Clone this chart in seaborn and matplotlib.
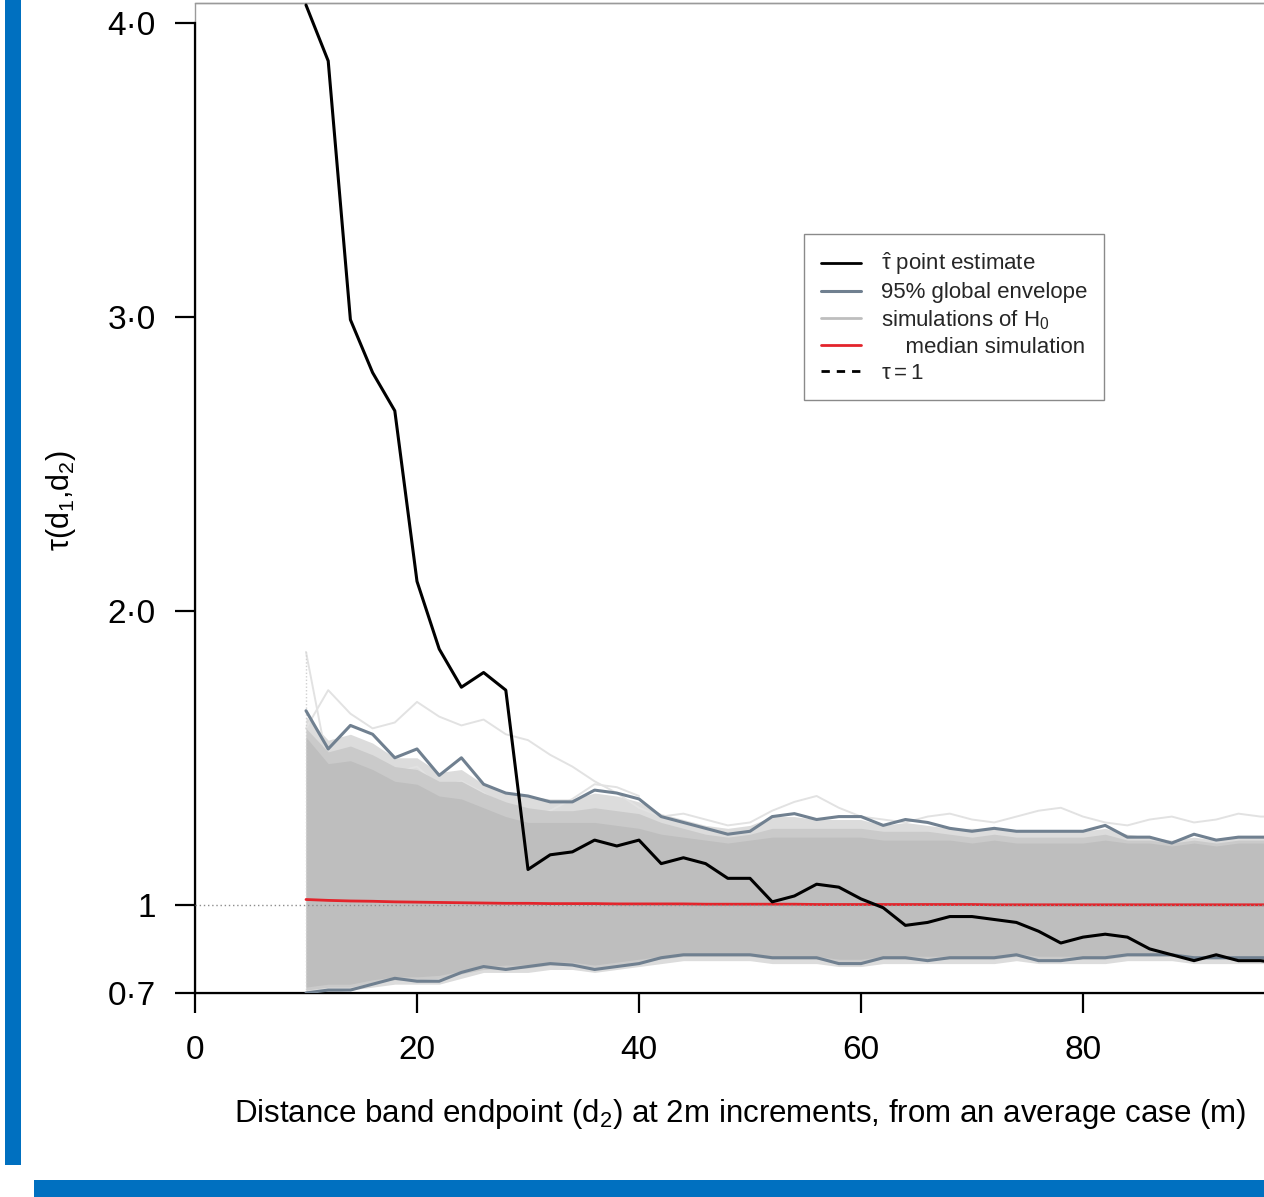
import numpy as np
import pandas as pd
import matplotlib
matplotlib.use("Agg")
import matplotlib.pyplot as plt
import seaborn as sns
from matplotlib.lines import Line2D
from matplotlib.patches import Rectangle

# ---------------- data ----------------
x_vals = list(range(10, 101, 2))  # distance band endpoints

est = [4.06, 3.87, 2.99, 2.81, 2.68, 2.10, 1.87, 1.74, 1.79, 1.73,
       1.12, 1.17, 1.18, 1.22, 1.20, 1.22, 1.14, 1.16, 1.14, 1.09,
       1.09, 1.01, 1.03, 1.07, 1.06, 1.02, 0.99, 0.93, 0.94, 0.96,
       0.96, 0.95, 0.94, 0.91, 0.87, 0.89, 0.90, 0.89, 0.85, 0.83,
       0.81, 0.83, 0.81, 0.81, 0.80, 0.80]

env_hi = [1.66, 1.53, 1.61, 1.58, 1.50, 1.53, 1.44, 1.50, 1.41, 1.38,
          1.37, 1.35, 1.35, 1.39, 1.38, 1.36, 1.30, 1.28, 1.26, 1.24,
          1.25, 1.30, 1.31, 1.29, 1.30, 1.30, 1.27, 1.29, 1.28, 1.26,
          1.25, 1.26, 1.25, 1.25, 1.25, 1.25, 1.27, 1.23, 1.23, 1.21,
          1.24, 1.22, 1.23, 1.23, 1.23, 1.23]

env_lo = [0.70, 0.71, 0.71, 0.73, 0.75, 0.74, 0.74, 0.77, 0.79, 0.78,
          0.79, 0.80, 0.795, 0.78, 0.79, 0.80, 0.82, 0.83, 0.83, 0.83,
          0.83, 0.82, 0.82, 0.82, 0.80, 0.80, 0.82, 0.82, 0.81, 0.82,
          0.82, 0.82, 0.83, 0.81, 0.81, 0.82, 0.82, 0.83, 0.83, 0.83,
          0.82, 0.82, 0.82, 0.82, 0.82, 0.82]

median_sim = [1.018, 1.015, 1.013, 1.012, 1.010, 1.009, 1.008, 1.007, 1.006, 1.005,
              1.005, 1.004, 1.004, 1.004, 1.003, 1.003, 1.003, 1.003, 1.002, 1.002,
              1.002, 1.002, 1.002, 1.001, 1.001, 1.001, 1.001, 1.001, 1.001, 1.001,
              1.001, 1.000, 1.000, 1.000, 1.000, 1.000, 1.000, 1.000, 1.000, 1.000,
              1.000, 1.000, 1.000, 1.000, 1.000, 1.000]

# spread of the simulated H0 curves (outer, lightly covered region)
sim_outer_hi = [1.64, 1.56, 1.58, 1.55, 1.50, 1.50, 1.45, 1.46, 1.41, 1.38,
                1.37, 1.36, 1.36, 1.38, 1.37, 1.35, 1.31, 1.29, 1.27, 1.26,
                1.27, 1.30, 1.30, 1.29, 1.29, 1.29, 1.27, 1.28, 1.27, 1.26,
                1.26, 1.26, 1.25, 1.25, 1.25, 1.25, 1.26, 1.24, 1.23, 1.22,
                1.23, 1.22, 1.23, 1.23, 1.23, 1.23]
sim_outer_lo = [0.70, 0.70, 0.71, 0.72, 0.73, 0.73, 0.73, 0.75, 0.77, 0.77,
                0.77, 0.78, 0.78, 0.77, 0.78, 0.79, 0.80, 0.81, 0.81, 0.81,
                0.81, 0.80, 0.80, 0.80, 0.79, 0.79, 0.80, 0.80, 0.80, 0.80,
                0.80, 0.80, 0.81, 0.80, 0.80, 0.80, 0.80, 0.81, 0.81, 0.81,
                0.80, 0.80, 0.80, 0.80, 0.80, 0.80]
# more heavily covered part of the simulated curves
sim_mid_hi = [1.60, 1.52, 1.54, 1.51, 1.47, 1.46, 1.42, 1.42, 1.38, 1.35,
              1.33, 1.32, 1.32, 1.33, 1.32, 1.31, 1.28, 1.26, 1.24, 1.23,
              1.24, 1.26, 1.26, 1.26, 1.26, 1.26, 1.25, 1.25, 1.25, 1.24,
              1.23, 1.24, 1.23, 1.23, 1.23, 1.23, 1.24, 1.22, 1.22, 1.21,
              1.22, 1.21, 1.22, 1.22, 1.22, 1.22]
sim_mid_lo = [0.71, 0.72, 0.72, 0.735, 0.745, 0.745, 0.75, 0.765, 0.78, 0.785,
              0.785, 0.795, 0.795, 0.785, 0.795, 0.805, 0.815, 0.825, 0.825, 0.825,
              0.825, 0.815, 0.815, 0.815, 0.805, 0.805, 0.815, 0.815, 0.815, 0.815,
              0.815, 0.815, 0.825, 0.815, 0.815, 0.815, 0.815, 0.825, 0.825, 0.825,
              0.815, 0.815, 0.815, 0.815, 0.815, 0.815]
# densely covered core of the simulated curves
sim_core_hi = [1.57, 1.48, 1.49, 1.46, 1.42, 1.41, 1.37, 1.36, 1.33, 1.30,
               1.28, 1.28, 1.28, 1.28, 1.27, 1.26, 1.24, 1.23, 1.22, 1.21,
               1.22, 1.23, 1.23, 1.23, 1.23, 1.23, 1.22, 1.22, 1.22, 1.22,
               1.21, 1.22, 1.21, 1.21, 1.21, 1.21, 1.22, 1.21, 1.21, 1.20,
               1.21, 1.20, 1.21, 1.21, 1.21, 1.21]
sim_core_lo = [0.72, 0.73, 0.73, 0.745, 0.755, 0.755, 0.76, 0.775, 0.79, 0.795,
               0.795, 0.805, 0.805, 0.795, 0.805, 0.815, 0.825, 0.835, 0.835, 0.835,
               0.835, 0.825, 0.825, 0.825, 0.815, 0.815, 0.825, 0.825, 0.825, 0.825,
               0.825, 0.825, 0.835, 0.825, 0.825, 0.825, 0.825, 0.835, 0.835, 0.835,
               0.825, 0.825, 0.825, 0.825, 0.825, 0.825]

# a few outlying simulated curves visible above the envelope
sim_a_x = x_vals[:16]
sim_a = [1.86, 1.47, 1.52, 1.50, 1.45, 1.47, 1.40, 1.42, 1.38, 1.33,
         1.30, 1.32, 1.36, 1.41, 1.40, 1.37]
sim_b_x = x_vals[:16]
sim_b = [1.60, 1.73, 1.65, 1.60, 1.62, 1.69, 1.64, 1.61, 1.63, 1.58,
         1.56, 1.51, 1.47, 1.42, 1.38, 1.33]
sim_c_x = x_vals[15:]
sim_c = [1.33, 1.30, 1.31, 1.29, 1.27, 1.28, 1.32, 1.35, 1.37, 1.33,
         1.30, 1.29, 1.28, 1.30, 1.31, 1.29, 1.28, 1.30, 1.32, 1.33,
         1.30, 1.28, 1.27, 1.29, 1.30, 1.28, 1.29, 1.31, 1.30, 1.30, 1.29]

x_ticks = [0, 20, 40, 60, 80]
x_tick_labels = ["0", "20", "40", "60", "80"]
y_ticks = [0.7, 1.0, 2.0, 3.0, 4.0]
y_tick_labels = ["0·7", "1", "2·0", "3·0", "4·0"]

legend_labels = [r"$\hat{\mathrm{\tau}}$ point estimate",
                 "95% global envelope",
                 r"simulations of H$_0$",
                 "    median simulation",
                 r"$\mathrm{\tau} = 1$"]

# ---------------- style ----------------
sns.set_theme(style="white")
plt.rcParams["font.family"] = ["Liberation Sans", "DejaVu Sans"]
plt.rcParams["mathtext.fontset"] = "custom"
plt.rcParams["mathtext.rm"] = "Liberation Sans"
plt.rcParams["mathtext.it"] = "Liberation Sans:italic"
plt.rcParams["mathtext.bf"] = "Liberation Sans:bold"

C_EST = "black"
C_ENV = "#708090"
C_SIM = "#BEBEBE"
C_SIM_MID = "#CACACA"
C_SIM_LIGHT = "#DCDCDC"
C_MED = "#E3242B"
C_BLUE = "#0070C0"

fig = plt.figure(figsize=(12.64, 11.97), dpi=100)
ax = fig.add_axes([195 / 1264, (1197 - 993) / 1197, 1110 / 1264, 990 / 1197])

# simulated H0 curves
ax.fill_between(x_vals, sim_outer_lo, sim_outer_hi, color=C_SIM_LIGHT, lw=0, zorder=1)
ax.fill_between(x_vals, sim_mid_lo, sim_mid_hi, color=C_SIM_MID, lw=0, zorder=1.6)
ax.fill_between(x_vals, sim_core_lo, sim_core_hi, color=C_SIM, lw=0, zorder=2)
for sx, sy in [(sim_a_x, sim_a), (sim_b_x, sim_b), (sim_c_x, sim_c)]:
    sns.lineplot(x=sx, y=sy, ax=ax, color="#E2E2E2", lw=1.4, zorder=1.5,
                 estimator=None, sort=False)
ax.vlines(x_vals[0], min(sim_outer_lo), max(sim_a), colors="#D0D0D0",
          linestyles=(0, (1, 1.5)), lw=1.0, zorder=2.5)

# median simulation
sns.lineplot(x=x_vals, y=median_sim, ax=ax, color=C_MED, lw=2.0, zorder=4,
             estimator=None, sort=False)
# tau = 1 reference
ax.axhline(1.0, color="#8C8C8C", lw=1.0, ls=(0, (1, 2)), zorder=4.5)
# envelope
sns.lineplot(x=x_vals, y=env_hi, ax=ax, color=C_ENV, lw=2.2, zorder=5,
             estimator=None, sort=False)
sns.lineplot(x=x_vals, y=env_lo, ax=ax, color=C_ENV, lw=2.2, zorder=5,
             estimator=None, sort=False)
# point estimate
sns.lineplot(x=x_vals, y=est, ax=ax, color=C_EST, lw=2.2, zorder=6,
             estimator=None, sort=False)

ax.set_xlim(0, 100)
ax.set_ylim(0.7, 4.067)

# box and axes
for name, sp in ax.spines.items():
    sp.set_visible(True)
    sp.set_color("#9A9A9A")
    sp.set_linewidth(1.0)
ax.spines["left"].set_color("black")
ax.spines["left"].set_linewidth(1.6)
ax.spines["left"].set_bounds(0.7, 4.0)
ax.spines["bottom"].set_color("black")
ax.spines["bottom"].set_linewidth(1.6)
ax.add_patch(Rectangle((0, 0), 1, 1, transform=ax.transAxes, fill=False,
                       edgecolor="#9A9A9A", lw=1.0, zorder=0.5, clip_on=False))

ax.set_xticks(x_ticks)
ax.set_xticklabels(x_tick_labels)
ax.set_yticks(y_ticks)
ax.set_yticklabels(y_tick_labels)
ax.tick_params(axis="both", which="major", bottom=True, left=True, top=False, right=False,
               direction="out", length=14.4, width=1.6, color="black",
               labelsize=24, labelcolor="black")
ax.tick_params(axis="x", pad=16)
ax.tick_params(axis="y", pad=14)

ax.set_xlabel(r"Distance band endpoint (d$_2$) at 2m increments, from an average case (m)",
              fontsize=22.5, color="black")
ax.xaxis.set_label_coords(0.4915, -0.105)
ax.set_ylabel(r"$\mathrm{\tau}$(d$_1$,d$_2$)", fontsize=22, color="black")
ax.yaxis.set_label_coords(-0.105, 0.497)

handles = [Line2D([], [], color=C_EST, lw=2.0),
           Line2D([], [], color=C_ENV, lw=2.2),
           Line2D([], [], color=C_SIM, lw=2.0),
           Line2D([], [], color=C_MED, lw=2.0),
           Line2D([], [], color="black", lw=2.0, ls=(0, (3, 2.5)))]
leg = ax.legend(handles, legend_labels, loc="upper left",
                bbox_to_anchor=(0.5486, 0.7667), borderaxespad=0,
                frameon=True, fancybox=False, framealpha=1, edgecolor="#8A8A8A",
                fontsize=16, labelspacing=0.22, handlelength=1.8,
                handletextpad=0.9, borderpad=0.75)
leg.get_frame().set_linewidth(1.0)
leg.set_zorder(10)

# decorative blue frame bars
fig.add_artist(Rectangle((5 / 1264, (1197 - 1165) / 1197), 16 / 1264, 1165 / 1197,
                         transform=fig.transFigure, color=C_BLUE, lw=0))
fig.add_artist(Rectangle((34 / 1264, 0), (1264 - 34) / 1264, 17 / 1197,
                         transform=fig.transFigure, color=C_BLUE, lw=0))

fig.savefig("out.png", dpi=100)
